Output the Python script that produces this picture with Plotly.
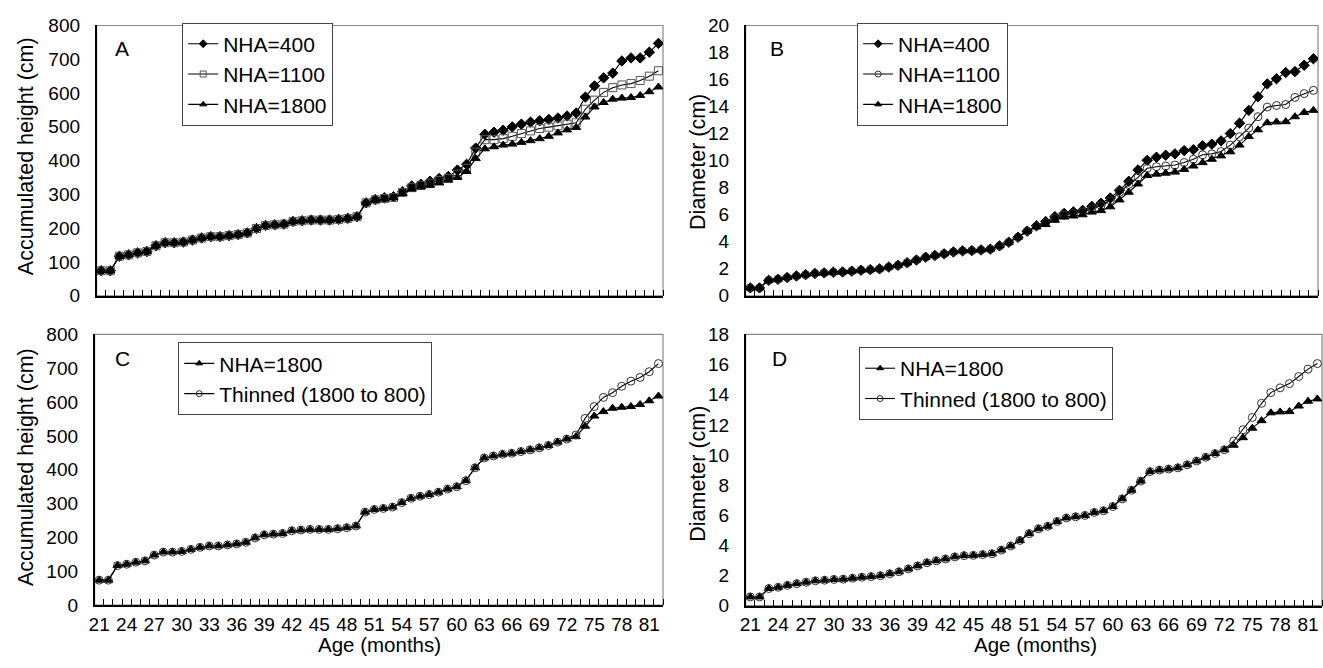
import plotly.graph_objects as go

ages = list(range(21, 83))
age_ticks = list(range(21, 82, 3))

# Accumulated height (cm)
height_400 = [74, 74, 117, 121, 127, 131, 148, 157, 157, 159, 165, 171, 175, 175, 178, 181, 186, 199, 208, 210,
              212, 220, 222, 224, 224, 224, 226, 229, 234, 275, 285, 290, 293, 308, 325, 330, 339, 347, 353, 372,
              389, 437, 478, 484, 490, 500, 508, 514, 518, 522, 526, 532, 541, 588, 621, 645, 659, 695, 704, 704,
              721, 747]
height_1100 = [74, 74, 117, 121, 127, 131, 148, 157, 157, 159, 165, 171, 175, 175, 178, 181, 186, 199, 208, 210,
               212, 220, 222, 224, 224, 224, 226, 229, 234, 275, 284, 288, 291, 306, 320, 327, 333, 341, 347, 360,
               377, 425, 462, 462, 465, 472, 480, 488, 495, 499, 503, 508, 512, 552, 579, 602, 616, 624, 628, 637,
               650, 666]
height_1800 = [74, 74, 117, 121, 127, 131, 148, 157, 157, 159, 165, 171, 175, 175, 178, 181, 186, 199, 208, 210,
               212, 220, 222, 224, 224, 224, 226, 229, 234, 275, 283, 286, 290, 303, 316, 322, 327, 334, 343, 350,
               368, 406, 435, 441, 446, 449, 454, 459, 465, 472, 482, 491, 498, 529, 559, 572, 582, 585, 587, 593,
               604, 618]
height_thinned = [74, 74, 117, 121, 127, 131, 148, 157, 157, 159, 165, 171, 175, 175, 178, 181, 186, 199, 208, 210,
                  212, 220, 222, 224, 224, 224, 226, 229, 234, 275, 283, 286, 290, 303, 316, 322, 327, 334, 343, 350,
                  368, 406, 435, 441, 446, 449, 454, 459, 465, 472, 482, 491, 503, 552, 587, 614, 628, 647, 662, 673,
                  690, 714]

# Diameter (cm)
diam_400 = [0.58, 0.58, 1.14, 1.22, 1.35, 1.46, 1.56, 1.65, 1.69, 1.74, 1.76, 1.82, 1.89, 1.93, 1.99, 2.12, 2.25,
            2.44, 2.64, 2.85, 2.98, 3.1, 3.24, 3.32, 3.34, 3.39, 3.45, 3.69, 3.96, 4.33, 4.78, 5.18, 5.49, 5.85,
            6.09, 6.21, 6.32, 6.61, 6.85, 7.23, 7.8, 8.47, 9.31, 10.02, 10.25, 10.4, 10.5, 10.74, 10.81, 11.1,
            11.22, 11.46, 12.0, 12.77, 13.72, 14.73, 15.68, 16.06, 16.52, 16.59, 17.06, 17.54]
diam_1100 = [0.58, 0.58, 1.14, 1.22, 1.35, 1.46, 1.56, 1.65, 1.69, 1.74, 1.76, 1.82, 1.89, 1.93, 1.99, 2.12, 2.25,
             2.44, 2.64, 2.85, 2.98, 3.1, 3.24, 3.32, 3.34, 3.39, 3.45, 3.69, 3.96, 4.33, 4.78, 5.15, 5.42, 5.73,
             5.97, 6.09, 6.21, 6.44, 6.68, 7.04, 7.64, 8.23, 8.76, 9.43, 9.55, 9.6, 9.67, 9.86, 10.1, 10.43,
             10.5, 10.67, 11.15, 11.77, 12.41, 13.25, 13.96, 14.08, 14.15, 14.68, 14.96, 15.2]
diam_1800 = [0.58, 0.58, 1.14, 1.22, 1.35, 1.46, 1.56, 1.65, 1.69, 1.74, 1.76, 1.82, 1.89, 1.93, 1.99, 2.12, 2.25,
             2.44, 2.64, 2.85, 2.98, 3.1, 3.24, 3.32, 3.34, 3.39, 3.45, 3.69, 3.96, 4.33, 4.78, 5.1, 5.27, 5.59,
             5.82, 5.9, 5.99, 6.19, 6.3, 6.58, 7.09, 7.66, 8.27, 8.9, 9.0, 9.07, 9.15, 9.35, 9.6, 9.85,
             10.1, 10.35, 10.65, 11.15, 11.78, 12.28, 12.8, 12.86, 12.88, 13.25, 13.57, 13.72]
diam_thinned = [0.58, 0.58, 1.14, 1.22, 1.35, 1.46, 1.56, 1.65, 1.69, 1.74, 1.76, 1.82, 1.89, 1.93, 1.99, 2.12, 2.25,
                2.44, 2.64, 2.85, 2.98, 3.1, 3.24, 3.32, 3.34, 3.39, 3.45, 3.69, 3.96, 4.33, 4.78, 5.1, 5.27, 5.59,
                5.82, 5.9, 5.99, 6.19, 6.3, 6.58, 7.09, 7.66, 8.27, 8.9, 9.0, 9.07, 9.15, 9.35, 9.6, 9.85,
                10.1, 10.35, 10.93, 11.68, 12.49, 13.43, 14.14, 14.46, 14.74, 15.21, 15.7, 16.07]

W, H = 1323, 668
FONT = "Liberation Sans, Arial, sans-serif"

def px_x(p):
    return p / W

def px_y(p):
    return 1 - p / H

panels = {
    "A": dict(x=(91, 660), y=(16, 295)),
    "B": dict(x=(743, 1318), y=(16, 295)),
    "C": dict(x=(89, 660), y=(335, 614.5)),
    "D": dict(x=(743, 1322), y=(335, 615)),
}

fig = go.Figure()

def add(xa, ya, y, name, symbol, size, legend, mcolor="black"):
    # data trace
    fig.add_trace(go.Scatter(
        x=ages, y=y, name=name, mode="lines+markers", showlegend=False,
        xaxis=xa, yaxis=ya,
        line=dict(color="black", width=1.1),
        marker=dict(symbol=symbol, size=size, color=mcolor,
                    line=dict(color=mcolor, width=1)),
    ))
    # legend entry with smaller marker, as in the reference
    fig.add_trace(go.Scatter(
        x=[None], y=[None], name=name, mode="lines+markers", showlegend=True,
        xaxis=xa, yaxis=ya, legend=legend,
        line=dict(color="black", width=1.1),
        marker=dict(symbol=symbol, size=max(size - 2, 5), color=mcolor,
                    line=dict(color=mcolor, width=1)),
    ))

# Panel A
add("x", "y", height_400, "NHA=400", "diamond", 8, "legend")
add("x", "y", height_1100, "NHA=1100", "square-open", 8, "legend", mcolor="#555555")
add("x", "y", height_1800, "NHA=1800", "triangle-up", 8, "legend")
# Panel B
add("x2", "y2", diam_400, "NHA=400", "diamond", 8, "legend2")
add("x2", "y2", diam_1100, "NHA=1100", "circle-open", 8, "legend2", mcolor="#333333")
add("x2", "y2", diam_1800, "NHA=1800", "triangle-up", 8, "legend2")
# Panel C
add("x3", "y3", height_1800, "NHA=1800", "triangle-up", 8, "legend3")
add("x3", "y3", height_thinned, "Thinned (1800 to 800)", "circle-open", 8, "legend3", mcolor="#333333")
# Panel D
add("x4", "y4", diam_1800, "NHA=1800", "triangle-up", 8, "legend4")
add("x4", "y4", diam_thinned, "Thinned (1800 to 800)", "circle-open", 8, "legend4", mcolor="#333333")

yranges = {"A": (0, 800, 100), "B": (0, 20, 2), "C": (0, 800, 100), "D": (0, 18, 2)}
names = ["A", "B", "C", "D"]
layout = {}
for i, k in enumerate(names):
    sfx = "" if i == 0 else str(i + 1)
    p = panels[k]
    show_lbl = k in ("C", "D")
    layout["xaxis" + sfx] = dict(
        domain=[px_x(p["x"][0]), px_x(p["x"][1])],
        anchor="y" + sfx,
        range=[20.5, 82.5],
        tickmode="array", tickvals=age_ticks, ticktext=[str(a) for a in age_ticks],
        showticklabels=show_lbl, ticks="",
        minor=dict(tickmode="linear", tick0=20.5, dtick=1, ticks="inside", ticklen=6,
                   tickcolor="black", tickwidth=1, showgrid=False),
        showline=True, linecolor="black", linewidth=1.5,
        showgrid=False, zeroline=False,
        tickfont=dict(family=FONT, size=19, color="black"),
        ticklabelstandoff=1,
    )
    lo, hi, dt = yranges[k]
    layout["yaxis" + sfx] = dict(
        domain=[px_y(p["y"][1]), px_y(p["y"][0])],
        anchor="x" + sfx,
        range=[lo, hi], dtick=dt, tick0=0,
        ticks="", showline=True, linecolor="black", linewidth=1.5,
        showgrid=False, zeroline=False,
        tickfont=dict(family=FONT, size=19, color="black"),
        ticklabelstandoff=11,
    )

legend_common = dict(bgcolor="white", bordercolor="#444444", borderwidth=1,
                     font=dict(family=FONT, size=21, color="black"),
                     xanchor="left", yanchor="top", tracegroupgap=0, itemwidth=30)
layout["legend"] = dict(x=px_x(177), y=px_y(13), **legend_common)
layout["legend2"] = dict(x=px_x(855), y=px_y(13), **legend_common)
layout["legend3"] = dict(x=px_x(173), y=px_y(343), **legend_common)
layout["legend4"] = dict(x=px_x(857), y=px_y(348), **legend_common)

shapes = []
for i, k in enumerate(names):
    sfx = "" if i == 0 else str(i + 1)
    shapes.append(dict(type="rect", xref=f"x{sfx} domain", yref=f"y{sfx} domain",
                       x0=0, x1=1, y0=0, y1=1, line=dict(color="#888888", width=1.2),
                       layer="below"))

annotations = []
letters = {"A": (117, 40), "B": (775, 40), "C": (117, 360), "D": (777, 360)}
for k, (ax, ay) in letters.items():
    annotations.append(dict(text=k, x=px_x(ax), y=px_y(ay), xref="paper", yref="paper",
                            showarrow=False, font=dict(family=FONT, size=21, color="black"),
                            xanchor="center", yanchor="middle"))
ytitles = [("Accumulated height (cm)", 20, 151), ("Diameter (cm)", 695, 157),
           ("Accumulated height (cm)", 20, 472), ("Diameter (cm)", 695, 479)]
for t, ax, ay in ytitles:
    annotations.append(dict(text=t, x=px_x(ax), y=px_y(ay), xref="paper", yref="paper",
                            showarrow=False, textangle=-90,
                            font=dict(family=FONT, size=21.5, color="black"),
                            xanchor="center", yanchor="middle"))
for ax in (375, 1034):
    annotations.append(dict(text="Age (months)", x=px_x(ax), y=0, xref="paper", yref="paper",
                            showarrow=False, font=dict(family=FONT, size=20.5, color="black"),
                            xanchor="center", yanchor="bottom", borderpad=0))

fig.update_layout(
    width=W, height=H,
    margin=dict(l=0, r=0, t=0, b=0),
    paper_bgcolor="white", plot_bgcolor="white",
    shapes=shapes, annotations=annotations,
    font=dict(family=FONT, color="black"),
    **layout,
)

fig.write_html("out.html")
